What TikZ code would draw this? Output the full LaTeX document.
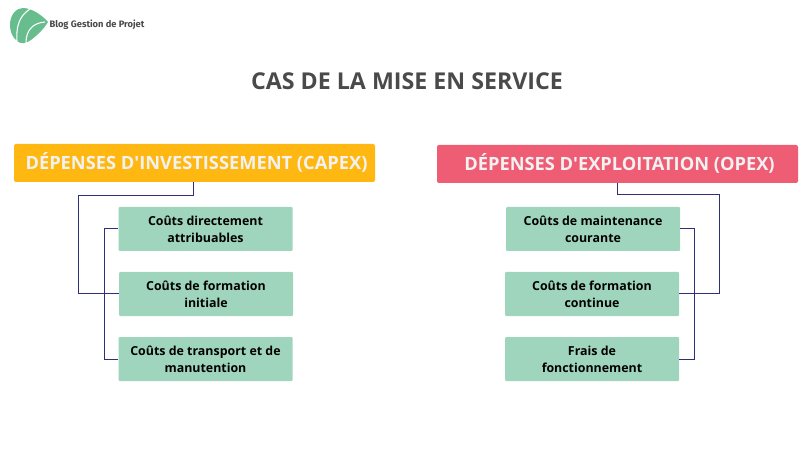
\documentclass[tikz,border=0pt]{standalone}
\usepackage{xcolor}
\usepackage{fontspec}
\setmainfont[Ligatures=NoCommon]{Open Sans}
\defaultfontfeatures{}
\newfontfamily\logofont{Fira Sans}
\newfontfamily\headfont[Mapping=]{Open Sans}
\usetikzlibrary{calc}
\definecolor{boxgreen}{HTML}{A0D5BD}
\definecolor{logogreen}{HTML}{68BD8E}
\definecolor{capexyellow}{HTML}{FFB812}
\definecolor{opexred}{HTML}{EF5D75}
\definecolor{linkblue}{HTML}{2F2F78}
\definecolor{titlegray}{HTML}{4A4A4A}
\definecolor{headwhite}{HTML}{F2F2F2}
\tikzset{
	headbox/.style={rounded corners=1.5pt, text=headwhite, font=\headfont\bfseries\fontsize{13.7}{16}\selectfont, minimum width=270.75pt, minimum height=28.5pt, inner sep=0pt},
	costbox/.style={fill=boxgreen, rounded corners=0.75pt, text=black, align=center, font=\bfseries\fontsize{9.3}{12.75}\selectfont, minimum width=130.5pt, minimum height=33pt, inner sep=0pt},
	link/.style={draw=linkblue, line width=0.75pt}
}
\begin{document}
\begin{tikzpicture}[x=0.75pt,y=-0.75pt]
	\useasboundingbox (0,0) rectangle (811,456);
	% logo
	\fill [logogreen] (10,25) .. controls (10,15) and (16,8) .. (23,8) .. controls (32,8) and (43,16) .. (48,22) .. controls (45,27) and (40,33) .. (31,40) .. controls (26,44) and (20,44) .. (17,41) .. controls (12,37) and (10,31) .. (10,25) -- cycle;
	\draw [white, line width=0.8pt] (17,41) .. controls (16,27) and (19,16) .. (30,9);
	\draw [white, line width=0.8pt] (26,43) .. controls (26,31) and (32,23) .. (45,22);
	\node [font=\logofont\fontsize{7}{8}\selectfont\bfseries, text=titlegray, inner sep=0pt] (logotext) at (97,24.5) {Blog Gestion de Projet};
	% title
	\node [font=\bfseries\fontsize{17.4}{21}\selectfont, text=titlegray, inner sep=0pt] (title) at (407,81) {CAS DE LA MISE EN SERVICE};
	% headers
	\node [headbox, fill=capexyellow] (capex) at (194.5,163) {\hspace{3pt}\raisebox{3pt}{DÉPENSES D'INVESTISSEMENT (CAPEX)}};
	\node [headbox, fill=opexred] (opex) at (617.5,164) {\hspace{3pt}\raisebox{3pt}{DÉPENSES D'EXPLOITATION (OPEX)}};
	% left boxes
	\node [costbox] (directs) at (205.5,229) {Coûts directement\\attribuables};
	\node [costbox] (initiale) at (206,294) {Coûts de formation\\initiale};
	\node [costbox] (transport) at (205.5,359) {Coûts de transport et de\\manutention};
	% right boxes
	\node [costbox] (maintenance) at (593,229) {Coûts de maintenance\\courante};
	\node [costbox] (continue) at (592,294) {Coûts de formation\\continue};
	\node [costbox] (frais) at (592,359) {Frais de\\fonctionnement};
	% links
	\draw [link] ($(capex.south)+(-1.5,0)$) |- (78,196) |- (initiale.west);
	\draw [link] (directs.west) -- (104,229) -- (104,359) -- (transport.west);
	\draw [link] (opex.south) |- (719,195) |- (continue.east);
	\draw [link] (maintenance.east) -- (694,229) -- (694,359) -- (frais.east);
\end{tikzpicture}
\end{document}
